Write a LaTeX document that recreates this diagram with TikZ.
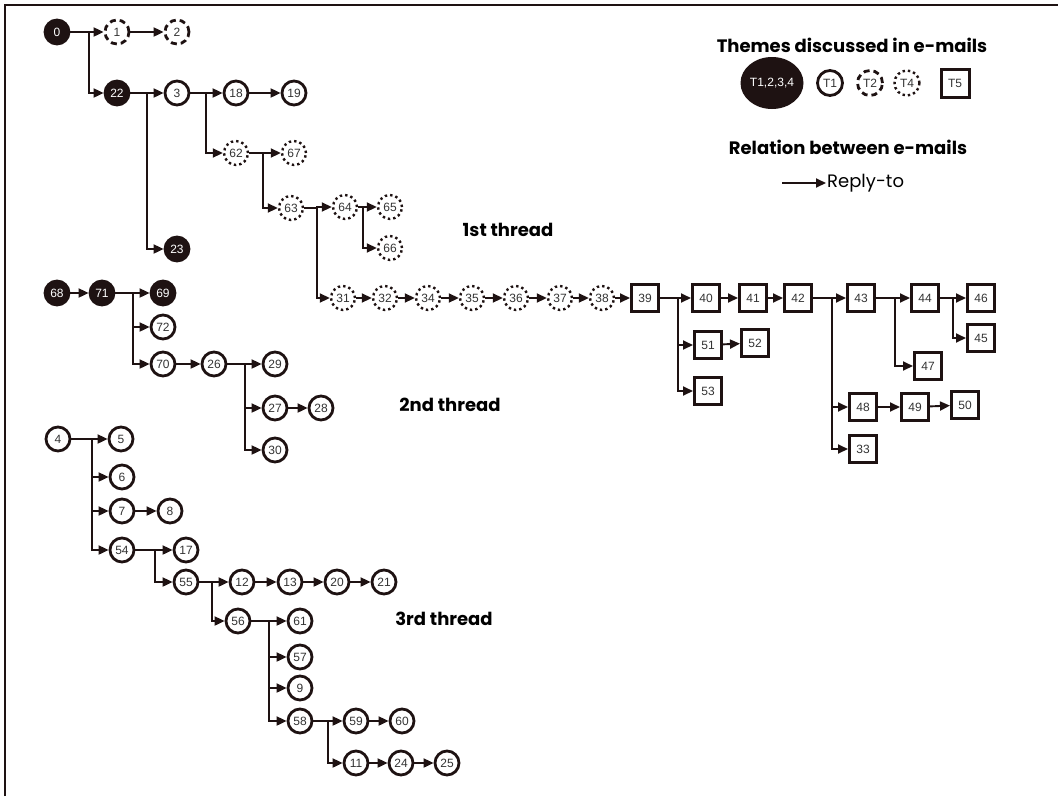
\documentclass[tikz,border=0pt]{standalone}
\usepackage{fontspec}
\setmainfont{Liberation Sans}
\newfontfamily\threadfont{Poppins}
\usetikzlibrary{arrows.meta,shapes.geometric}

\definecolor{ink}{HTML}{1E1212}
\definecolor{numgrey}{HTML}{333333}

\tikzset{
  mail/.style={circle,draw=ink,line width=2.8pt,minimum size=24pt,inner sep=0pt,
    font=\fontsize{12}{12}\selectfont,text=numgrey},
  allthemes/.style={mail,fill=ink,text=white},
  themeone/.style={mail},
  themetwo/.style={mail,dash pattern=on 6pt off 4pt},
  themefour/.style={mail,line width=2.4pt,dash pattern=on 2.4pt off 3pt},
  themefive/.style={rectangle,draw=ink,line width=3pt,minimum size=27pt,inner sep=0pt,
    font=\fontsize{12}{12}\selectfont,text=numgrey},
  reply/.style={draw=ink,line width=1.9pt,-{Triangle[length=10pt,width=9pt]}},
  heading/.style={font=\threadfont\bfseries\fontsize{18}{20}\selectfont},
}

\begin{document}
\begin{tikzpicture}[x=1pt,y=-1pt]
        \useasboundingbox (0,0) rectangle (1058,796);
        %% Frame
        \draw[ink,line width=2.5pt] (5,796) -- (5,5) -- (1058,5);

        %% 1st thread
        \node[allthemes] (m0)  at (57,32)  {0};
        \node[themetwo]  (m1)  at (117,32) {1};
        \node[themetwo]  (m2)  at (177,32) {2};
        \node[allthemes] (m22) at (117,93) {22};
        \node[allthemes] (m23) at (177,249) {23};
        \node[themeone]  (m3)  at (177,93) {3};
        \node[themeone]  (m18) at (236,93) {18};
        \node[themeone]  (m19) at (294,93) {19};
        \node[themefour] (m62) at (236,153) {62};
        \node[themefour] (m67) at (294,153) {67};
        \node[themefour] (m63) at (291,208) {63};
        \node[themefour] (m64) at (345,207) {64};
        \node[themefour] (m65) at (390,207) {65};
        \node[themefour] (m66) at (390,248) {66};
        \node[themefour] (m31) at (343,298) {31};
        \node[themefour] (m32) at (385,298) {32};
        \node[themefour] (m34) at (428,298) {34};
        \node[themefour] (m35) at (472,298) {35};
        \node[themefour] (m36) at (516,298) {36};
        \node[themefour] (m37) at (560,298) {37};
        \node[themefour] (m38) at (602,298) {38};
        \node[themefive] (m39) at (645,298) {39};
        \node[themefive] (m40) at (706,298) {40};
        \node[themefive] (m41) at (753,298) {41};
        \node[themefive] (m42) at (798,298) {42};
        \node[themefive] (m43) at (861,298) {43};
        \node[themefive] (m44) at (925,298) {44};
        \node[themefive] (m46) at (981,298) {46};
        \node[themefive] (m45) at (981,338) {45};
        \node[themefive] (m47) at (928,366) {47};
        \node[themefive] (m51) at (708,345) {51};
        \node[themefive] (m52) at (755,343) {52};
        \node[themefive] (m53) at (708,391) {53};
        \node[themefive] (m48) at (863,407) {48};
        \node[themefive] (m49) at (915,407) {49};
        \node[themefive] (m50) at (965,405) {50};
        \node[themefive] (m33) at (863,449) {33};

        %% 2nd thread
        \node[allthemes] (m68) at (57,293)  {68};
        \node[allthemes] (m71) at (102,293) {71};
        \node[allthemes] (m69) at (163,293) {69};
        \node[themeone]  (m72) at (163,327) {72};
        \node[themeone]  (m70) at (163,364) {70};
        \node[themeone]  (m26) at (214,364) {26};
        \node[themeone]  (m29) at (275,364) {29};
        \node[themeone]  (m27) at (275,408) {27};
        \node[themeone]  (m28) at (321,408) {28};
        \node[themeone]  (m30) at (275,450) {30};

        %% 3rd thread
        \node[themeone] (m4)  at (58,439)  {4};
        \node[themeone] (m5)  at (121,439) {5};
        \node[themeone] (m6)  at (122,477) {6};
        \node[themeone] (m7)  at (122,511) {7};
        \node[themeone] (m8)  at (170,511) {8};
        \node[themeone] (m54) at (122,550) {54};
        \node[themeone] (m17) at (186,550) {17};
        \node[themeone] (m55) at (186,582) {55};
        \node[themeone] (m12) at (242,582) {12};
        \node[themeone] (m13) at (290,582) {13};
        \node[themeone] (m20) at (337,582) {20};
        \node[themeone] (m21) at (384,582) {21};
        \node[themeone] (m56) at (238,621) {56};
        \node[themeone] (m61) at (300,621) {61};
        \node[themeone] (m57) at (300,657) {57};
        \node[themeone] (m9)  at (300,688) {9};
        \node[themeone] (m58) at (300,721) {58};
        \node[themeone] (m59) at (356,721) {59};
        \node[themeone] (m60) at (402,721) {60};
        \node[themeone] (m11) at (356,763) {11};
        \node[themeone] (m24) at (401,763) {24};
        \node[themeone] (m25) at (447,763) {25};

        %% Branch points
        \coordinate (j0)  at (89,32);
        \coordinate (j22) at (147,93);
        \coordinate (j3)  at (206,93);
        \coordinate (j62) at (263,153);
        \coordinate (j63) at (317,208);
        \coordinate (j64) at (363,207);
        \coordinate (j39) at (678,298);
        \coordinate (j42) at (832,298);
        \coordinate (j43) at (895,298);
        \coordinate (j44) at (953,298);
        \coordinate (j71) at (133,293);
        \coordinate (j26) at (245,364);
        \coordinate (j4)  at (92,439);
        \coordinate (j54) at (155,550);
        \coordinate (j55) at (212,582);
        \coordinate (j56) at (269,621);
        \coordinate (j58) at (328,721);

        %% Replies with several answers
        \foreach \p/\cs in {0/{1,22},22/{3,23},3/{18,62},62/{67,63},63/{64,31},64/{65,66},
                            39/{40,51,53},42/{43,48,33},43/{44,47},44/{46,45},
                            71/{69,72,70},26/{29,27,30},
                            4/{5,6,7,54},54/{17,55},55/{12,56},56/{61,57,9,58},58/{59,11}}
          \foreach \c in \cs
            \draw[reply] (m\p) -- (j\p) |- (m\c);

        %% Single replies
        \foreach \p/\c in {1/2,18/19,31/32,32/34,34/35,35/36,36/37,37/38,38/39,
                           40/41,41/42,51/52,48/49,49/50,
                           68/71,70/26,27/28,
                           7/8,12/13,13/20,20/21,59/60,11/24,24/25}
          \draw[reply] (m\p) -- (m\c);

        %% Thread labels
        \node[heading] (first)  at (508,230) {1st thread};
        \node[heading] (second) at (450,405) {2nd thread};
        \node[heading] (third)  at (444,619) {3rd thread};

        %% Legend
        \node[heading] (themes) at (852,45) {Themes discussed in e-mails};
        \node[ellipse,fill=ink,minimum width=63pt,minimum height=52pt,inner sep=0pt,
              text=white,font=\fontsize{12}{12}\selectfont] (lall) at (772,83) {T1,2,3,4};
        \node[themeone,minimum size=25pt]  (lone)  at (830,83) {T1};
        \node[themetwo,minimum size=25pt]  (ltwo)  at (870,83) {T2};
        \node[themefour,minimum size=25pt] (lfour) at (907,83) {T4};
        \node[themefive,minimum size=28pt] (lfive) at (955,83) {T5};
        \node[heading] (relation) at (848,147) {Relation between e-mails};
        \coordinate (rfrom) at (782,183);
        \coordinate (rto)   at (826,183);
        \draw[reply] (rfrom) -- (rto);
        \node[anchor=west,font=\threadfont\fontsize{18}{20}\selectfont,inner sep=1pt] (rlabel) at (rto) {Reply-to};
\end{tikzpicture}
\end{document}
